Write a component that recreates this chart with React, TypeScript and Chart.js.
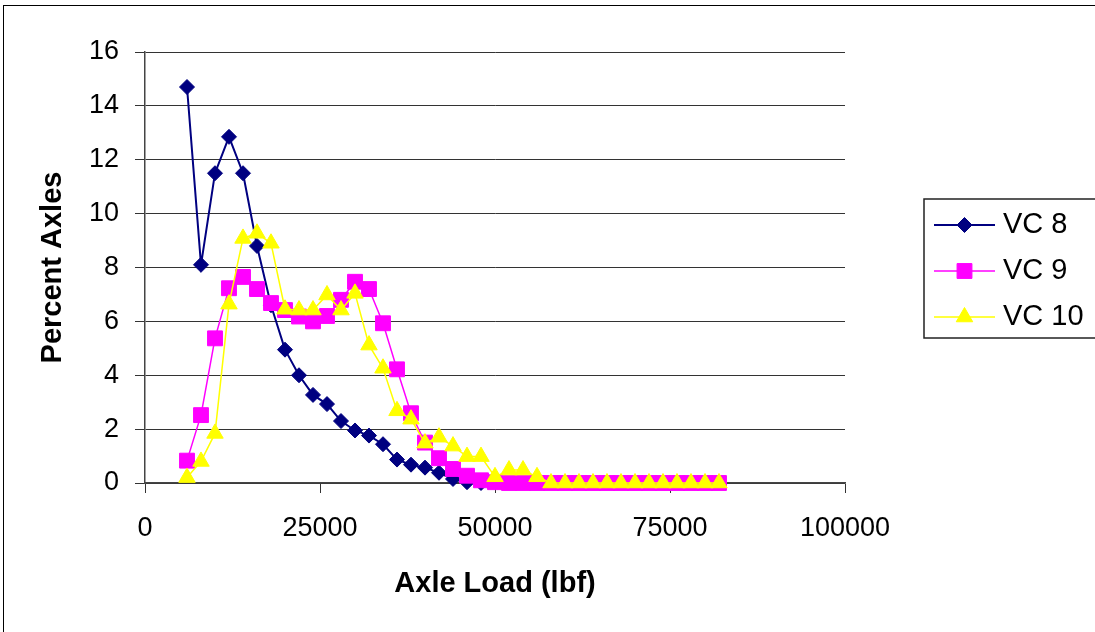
import React, { useEffect, useRef } from "react";
import { Chart, registerables } from "chart.js";

Chart.register(...registerables);

const AXLE_LOADS = [
  6000, 8000, 10000, 12000, 14000, 16000, 18000, 20000, 22000, 24000,
  26000, 28000, 30000, 32000, 34000, 36000, 38000, 40000, 42000, 44000,
  46000, 48000, 50000, 52000, 54000, 56000, 58000, 60000, 62000, 64000,
  66000, 68000, 70000, 72000, 74000, 76000, 78000, 80000, 82000,
];

const VC8 = [
  14.7, 8.1, 11.5, 12.85, 11.5, 8.8, 6.6, 4.95, 4.0, 3.27,
  2.93, 2.3, 1.95, 1.76, 1.44, 0.87, 0.68, 0.57, 0.38, 0.15,
  0.03, 0,
];

const VC9 = [
  0.83, 2.52, 5.37, 7.23, 7.65, 7.2, 6.68, 6.42, 6.18, 6.0,
  6.2, 6.8, 7.47, 7.2, 5.93, 4.22, 2.59, 1.5, 0.92, 0.52,
  0.27, 0.1, 0.03, 0, 0, 0, 0, 0, 0, 0,
  0, 0, 0, 0, 0, 0, 0, 0, 0,
];

const VC10 = [
  0.2, 0.8, 1.84, 6.64, 9.08, 9.27, 8.9, 6.45, 6.42, 6.42,
  6.98, 6.42, 7.04, 5.12, 4.26, 2.68, 2.37, 1.48, 1.7, 1.37,
  0.98, 0.98, 0.23, 0.48, 0.48, 0.23, 0, 0, 0, 0,
  0, 0, 0, 0, 0, 0, 0, 0, 0,
];

const X_TICKS = [0, 25000, 50000, 75000, 100000];
const Y_TICKS = [0, 2, 4, 6, 8, 10, 12, 14, 16];

const SERIES = [
  { label: "VC 8", values: VC8, color: "#000080", style: "rectRot", radius: 7.5, width: 2 },
  { label: "VC 9", values: VC9, color: "#FF00FF", style: "rect", radius: 10.5, width: 1.5 },
  { label: "VC 10", values: VC10, color: "#FFFF00", style: "triangle", radius: 9.5, width: 1.5 },
];

const FONT = "'Liberation Sans', Arial, sans-serif";

function drawMarker(ctx: CanvasRenderingContext2D, style: string, x: number, y: number, r: number, color: string) {
  ctx.save();
  ctx.fillStyle = color;
  ctx.strokeStyle = color;
  ctx.lineWidth = 1;
  ctx.beginPath();
  if (style === "rectRot") {
    ctx.moveTo(x - r, y);
    ctx.lineTo(x, y - r);
    ctx.lineTo(x + r, y);
    ctx.lineTo(x, y + r);
    ctx.closePath();
  } else if (style === "rect") {
    const s = Math.SQRT1_2 * r;
    ctx.rect(x - s, y - s, 2 * s, 2 * s);
  } else {
    const w = r * Math.sin(Math.PI / 3);
    ctx.moveTo(x, y - r);
    ctx.lineTo(x + w, y + r / 2);
    ctx.lineTo(x - w, y + r / 2);
    ctx.closePath();
  }
  ctx.fill();
  ctx.stroke();
  ctx.restore();
}

const framePlugin = {
  id: "frameAndLegend",
  afterDraw(chart: any) {
    const ctx: CanvasRenderingContext2D = chart.ctx;
    ctx.save();
    // outer chart border
    ctx.strokeStyle = "#000";
    ctx.lineWidth = 1;
    ctx.strokeRect(3.5, 5.5, 1200, 800);
    // legend box
    ctx.strokeStyle = "#222";
    ctx.lineWidth = 1.5;
    ctx.strokeRect(924, 199, 200, 139);
    const rows = [225, 271, 317];
    SERIES.forEach((s, i) => {
      const y = rows[i];
      ctx.strokeStyle = s.color;
      ctx.lineWidth = s.width;
      ctx.beginPath();
      ctx.moveTo(934, y);
      ctx.lineTo(995, y);
      ctx.stroke();
      drawMarker(ctx, s.style, 964.5, y, s.radius, s.color);
      ctx.fillStyle = "#000";
      ctx.font = `29px ${FONT}`;
      ctx.textAlign = "left";
      ctx.textBaseline = "middle";
      ctx.fillText(s.label, 1003, y);
    });
    ctx.restore();
  },
};

export default function App() {
  const canvasRef = useRef<HTMLCanvasElement | null>(null);

  useEffect(() => {
    const canvas = canvasRef.current;
    if (!canvas) return;
    const datasets = SERIES.map((s, i) => ({
      label: s.label,
      data: s.values.map((v, j) => ({ x: AXLE_LOADS[j], y: v })),
      borderColor: s.color,
      backgroundColor: s.color,
      borderWidth: s.width,
      pointStyle: s.style as any,
      pointRadius: s.radius,
      pointHoverRadius: s.radius,
      pointBorderWidth: 1,
      pointBackgroundColor: s.color,
      pointBorderColor: s.color,
      tension: 0,
      fill: false,
      clip: false as any,
      order: 3 - i,
    }));

    const chart = new Chart(canvas, {
      type: "line",
      data: { datasets },
      options: {
        animation: false,
        responsive: true,
        maintainAspectRatio: false,
        layout: { padding: { left: 0, top: 52, right: 250, bottom: 0 } },
        plugins: {
          legend: { display: false },
          tooltip: { enabled: false },
        },
        scales: {
          x: {
            type: "linear",
            min: 0,
            max: 100000,
            afterBuildTicks: (scale: any) => {
              scale.ticks = X_TICKS.map((v) => ({ value: v }));
            },
            afterFit: (scale: any) => {
              scale.height = 149;
            },
            ticks: {
              color: "#000",
              font: { family: FONT, size: 27 },
              padding: 19,
              maxRotation: 0,
              callback: (v: any) => String(v),
            },
            grid: {
              display: true,
              drawOnChartArea: false,
              drawTicks: true,
              tickLength: 10,
              color: "#333",
              lineWidth: 1,
            },
            border: { display: true, color: "#444", width: 1.5 },
            title: {
              display: true,
              text: "Axle Load (lbf)",
              color: "#000",
              font: { family: FONT, size: 29, weight: "bold" },
              padding: { top: 0, bottom: 30.5 },
            },
          },
          y: {
            type: "linear",
            min: 0,
            max: 16,
            afterBuildTicks: (scale: any) => {
              scale.ticks = Y_TICKS.map((v) => ({ value: v }));
            },
            afterFit: (scale: any) => {
              scale.width = 145;
            },
            ticks: {
              color: "#000",
              font: { family: FONT, size: 27 },
              padding: 16,
              callback: (v: any) => String(v),
            },
            grid: {
              display: true,
              drawOnChartArea: true,
              drawTicks: true,
              tickLength: 10,
              color: "#333",
              lineWidth: 1,
            },
            border: { display: true, color: "#444", width: 1.5 },
            title: {
              display: true,
              text: "Percent Axles",
              color: "#000",
              font: { family: FONT, size: 29, weight: "bold" },
              padding: { top: 35.5, bottom: 0 },
            },
          },
        },
      },
      plugins: [framePlugin],
    });

    return () => {
      chart.destroy();
    };
  }, []);

  return (
    <div style={{ position: "fixed", left: 0, top: 0, width: 1095, height: 632, background: "#fff" }}>
      <canvas ref={canvasRef} />
    </div>
  );
}
